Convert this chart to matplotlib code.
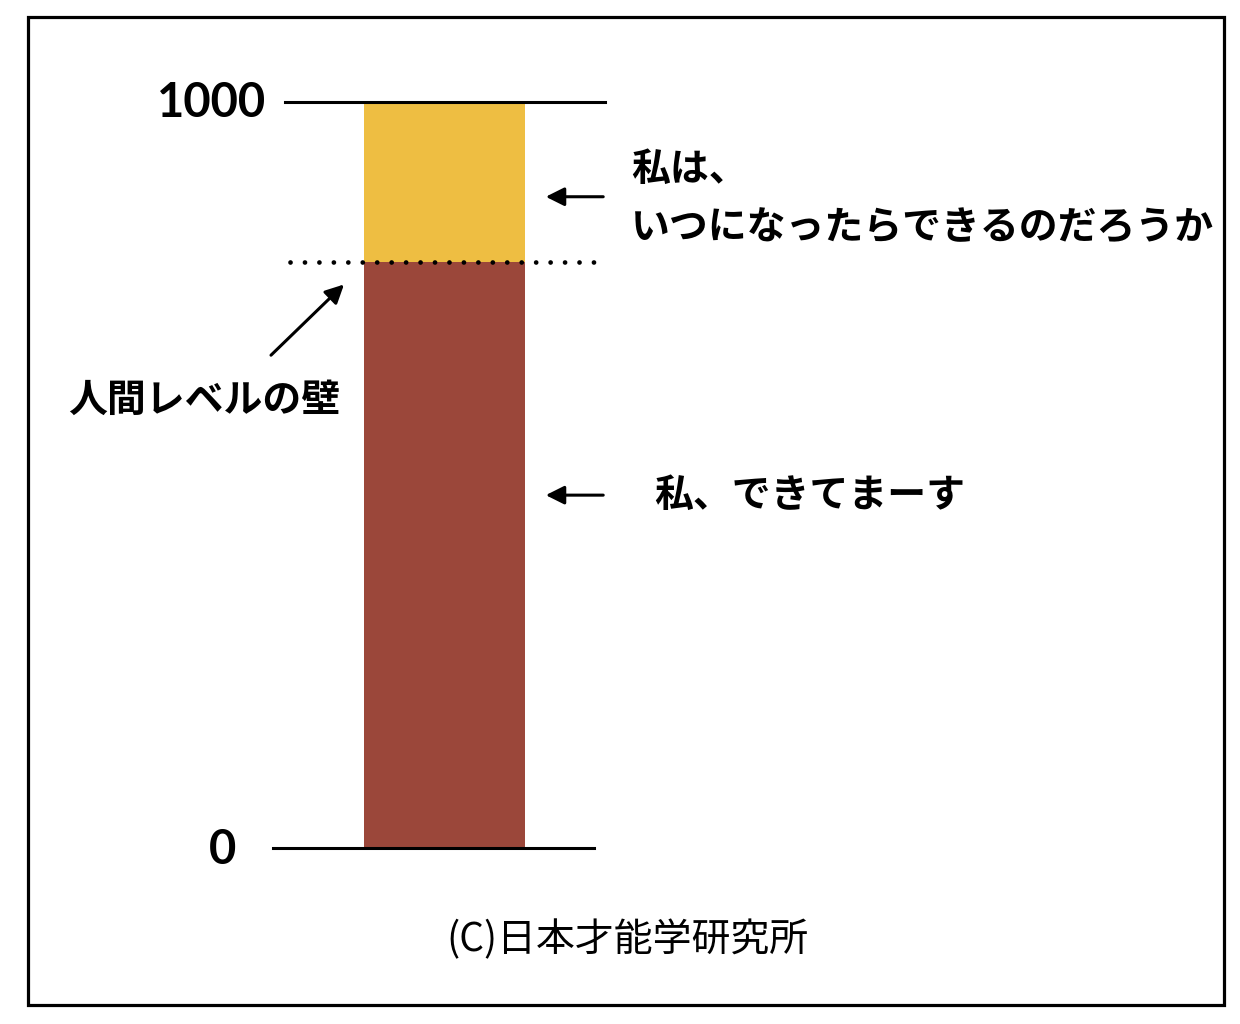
import matplotlib.pyplot as plt
from matplotlib.patches import Rectangle

plt.rcParams['font.family'] = ['Noto Sans CJK JP', 'DejaVu Sans']

# データ
human_level = 785          # 人間レベルの壁
max_level = 1000
tick_values = [0, 1000]
tick_labels = ['0', '1000']
bar_parts = [human_level, max_level - human_level]
bar_colors = ['#9B473A', '#EEBE42']

fig = plt.figure(figsize=(12.4, 10.24), dpi=100)
ax = fig.add_axes([0, 0, 1, 1])
ax.set_xlim(0, 1240)
# y: 0 -> 848px, 1000 -> 102px (上から)
ax.set_ylim(-176 / 0.746, 848 / 0.746)
ax.axis('off')

# 積み上げ棒
bottom = 0
for v, c in zip(bar_parts, bar_colors):
    ax.bar(444.5, v, width=161, bottom=bottom, color=c, zorder=1)
    bottom += v

# 目盛り線とラベル
ax.plot([285, 605], [tick_values[1]] * 2, color='black', lw=2.2, zorder=3)
ax.plot([273, 594], [tick_values[0]] * 2, color='black', lw=2.2, zorder=3)
ax.text(266, tick_values[1] - 2, tick_labels[1], fontsize=34, ha='right', va='center',
        family=['Lato', 'DejaVu Sans'], fontweight='bold')
ax.text(236, tick_values[0] - 3, tick_labels[0], fontsize=34, ha='right', va='center',
        family=['Lato', 'DejaVu Sans'], fontweight='bold')

# 人間レベルの点線
ax.plot([290, 600], [human_level] * 2, color='black', lw=3.4,
        linestyle=(0, (0.01, 3.05)), dash_capstyle='round', zorder=3)

# 矢印
arrow = dict(arrowstyle='-|>', color='black', lw=2.2, mutation_scale=28)
ax.annotate('', xy=(543, 873), xytext=(606, 873), arrowprops=arrow)
ax.annotate('', xy=(346, 758), xytext=(269, 658), arrowprops=arrow)
ax.annotate('', xy=(543, 473), xytext=(606, 473), arrowprops=arrow)

# 注釈テキスト
ax.text(631, 909, '私は、', fontsize=28, fontweight='bold', ha='left', va='center')
ax.text(631, 831, 'いつになったらできるのだろうか', fontsize=28, fontweight='bold',
        ha='left', va='center')
ax.text(654, 473, '私、できてまーす', fontsize=28, fontweight='bold', ha='left', va='center')
ax.text(204, 600, '人間レベルの壁', fontsize=28, fontweight='bold', ha='center', va='center')

ax.text(627, -123, '(C)日本才能学研究所', fontsize=28, ha='center', va='center')

# 外枠
fig.patches.append(Rectangle((28 / 1240, 1 - 1005 / 1024), 1196 / 1240, 988 / 1024,
                             transform=fig.transFigure, fill=False,
                             edgecolor='black', lw=2.3))

fig.savefig('out.png', dpi=100)
